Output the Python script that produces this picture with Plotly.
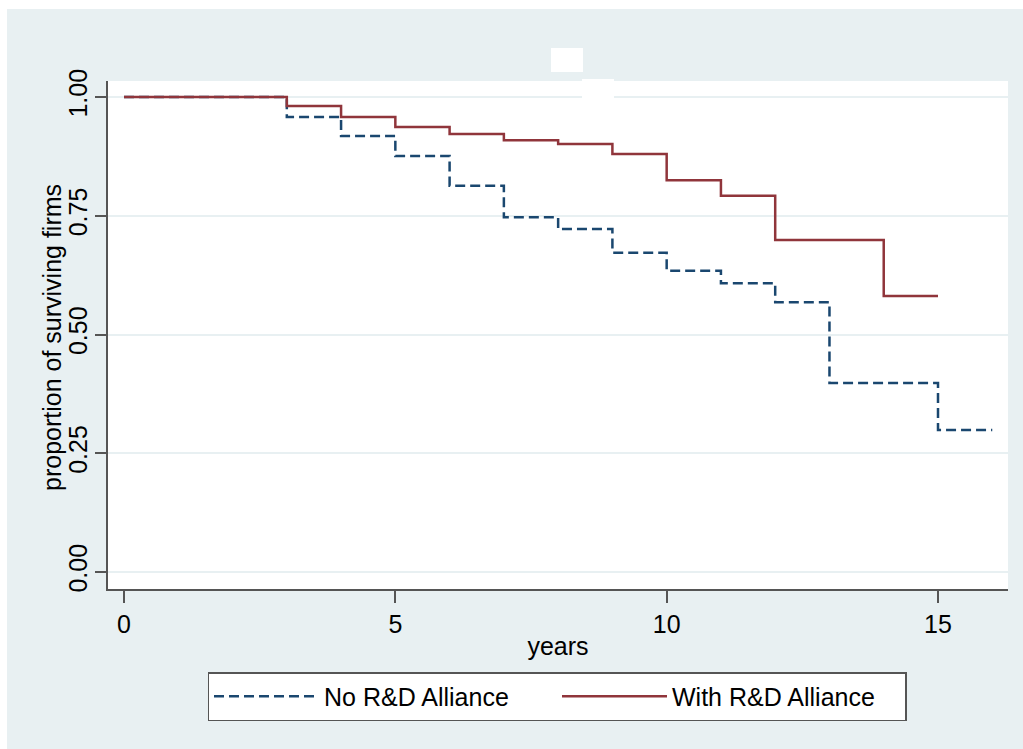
import plotly.graph_objects as go

# ---- data ----
years_no = [0, 3, 4, 5, 6, 7, 8, 9, 10, 11, 12, 13, 15, 16]
surv_no = [1.0, 0.958, 0.918, 0.876, 0.813, 0.747, 0.722, 0.672, 0.634, 0.608, 0.568, 0.398, 0.299, 0.299]

years_with = [0, 3, 4, 5, 6, 7, 8, 9, 10, 11, 12, 14, 15]
surv_with = [1.0, 0.981, 0.958, 0.937, 0.922, 0.909, 0.901, 0.880, 0.825, 0.792, 0.699, 0.581, 0.581]

y_ticks = [0.0, 0.25, 0.5, 0.75, 1.0]
y_ticklabels = ["0.00", "0.25", "0.50", "0.75", "1.00"]
x_ticks = [0, 5, 10, 15]

BG = "#E8F0F2"
GRID = "#E8F0F2"
AXIS = "#555555"
BLUE = "#1A476F"
RED = "#90353B"
FONT = "Liberation Sans, Arial, sans-serif"

W, H = 1023, 749
ML, MR, MT, MB = 108, 15, 81, 160
PW, PH = W - ML - MR, H - MT - MB


def px_x(p):
    return (p - ML) / PW


def px_y(p):
    return (H - MB - p) / PH


fig = go.Figure()
fig.add_trace(go.Scatter(
    x=years_no, y=surv_no, mode="lines", line_shape="hv",
    name="No R&D Alliance",
    line=dict(color=BLUE, width=2.5, dash="10px,5px"),
))
fig.add_trace(go.Scatter(
    x=years_with, y=surv_with, mode="lines", line_shape="hv",
    name="With R&D Alliance",
    line=dict(color=RED, width=2.5),
))

shapes = [
    # white page edges
    dict(type="rect", xref="paper", yref="paper", x0=px_x(0), x1=px_x(W), y0=px_y(0), y1=px_y(9),
         fillcolor="white", line_width=0, layer="below"),
    dict(type="rect", xref="paper", yref="paper", x0=px_x(0), x1=px_x(7), y0=px_y(0), y1=px_y(H),
         fillcolor="white", line_width=0, layer="below"),
    # white patches near top
    dict(type="rect", xref="paper", yref="paper", x0=px_x(551), x1=px_x(583), y0=px_y(72), y1=px_y(48),
         fillcolor="white", line_width=0, layer="above"),
    dict(type="rect", xref="paper", yref="paper", x0=px_x(582), x1=px_x(614), y0=px_y(99), y1=px_y(79),
         fillcolor="white", line_width=0, layer="above"),
]

fig.update_layout(
    width=W, height=H,
    margin=dict(l=ML, r=MR, t=MT, b=MB, pad=0),
    paper_bgcolor=BG,
    plot_bgcolor="white",
    font=dict(family=FONT, size=25, color="#000000"),
    showlegend=True,
    legend=dict(
        orientation="h", x=px_x(557), xanchor="center", y=px_y(672), yanchor="top",
        bgcolor="white", bordercolor=AXIS, borderwidth=1.5,
        font=dict(family=FONT, size=25, color="#000000"),
        entrywidth=228, itemwidth=105, traceorder="normal",
    ),
    shapes=shapes,
    annotations=[dict(
        text="proportion of surviving firms", textangle=-90,
        xref="paper", yref="paper", x=px_x(52), y=px_y(338),
        xanchor="center", yanchor="middle", showarrow=False,
        font=dict(family=FONT, size=25, color="#000000"),
    )],
    xaxis=dict(
        range=[-0.295, 16.29], tickvals=x_ticks,
        showgrid=False, zeroline=False,
        showline=True, linecolor=AXIS, linewidth=2,
        ticks="outside", ticklen=12, tickwidth=1.5, tickcolor=AXIS,
        tickfont=dict(size=25),
        title=dict(text="years", font=dict(size=25), standoff=0),
    ),
    yaxis=dict(
        range=[-0.0358, 1.0337], tickvals=y_ticks, ticktext=y_ticklabels,
        tickangle=-90,
        showgrid=True, gridcolor=GRID, gridwidth=2, zeroline=False,
        showline=True, linecolor=AXIS, linewidth=2,
        ticks="outside", ticklen=11, tickwidth=1.5, tickcolor=AXIS,
        tickfont=dict(size=25), ticklabelstandoff=-2,
    ),
)

fig.write_html("out.html")
